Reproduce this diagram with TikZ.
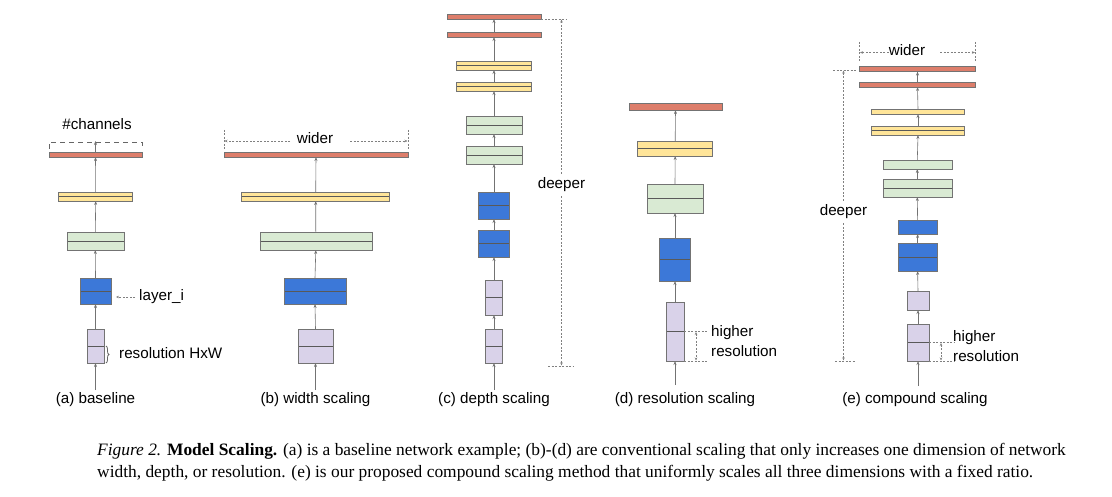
\documentclass[tikz,border=0pt]{standalone}
\usepackage{fontspec}
\setmainfont{Liberation Serif}
\newfontfamily\lblfont{Liberation Sans}
\usetikzlibrary{arrows.meta,decorations.pathreplacing}
\definecolor{cred}{HTML}{DD7E6B}
\definecolor{cyel}{HTML}{FFE599}
\definecolor{cgrn}{HTML}{D9EAD3}
\definecolor{cblu}{HTML}{3C78D8}
\definecolor{cpur}{HTML}{D9D2E9}
\tikzset{
  blk/.style={draw=black!55, line width=0.6pt, inner sep=0pt, outer sep=0pt},
  rd/.style={blk, fill=cred},
  yl/.style={blk, fill=cyel},
  gn/.style={blk, fill=cgrn},
  bl/.style={blk, fill=cblu},
  pu/.style={blk, fill=cpur},
  mid/.style={path picture={\draw[black!65, line width=0.8pt] (path picture bounding box.west) -- (path picture bounding box.east);}},
  flow/.style={black!55, line width=0.6pt, -{Stealth[length=4pt,width=3pt]}},
  dim/.style={black!50, line width=0.5pt, dash pattern=on 2pt off 1.5pt},
  lbl/.style={font=\lblfont\fontsize{15.2}{18}\selectfont, inner sep=0pt}
}
\newcommand{\blk}[6]{\node[#1, minimum width=#5pt, minimum height=#6pt] (#2) at (#3,#4) {};}
\begin{document}
\begin{tikzpicture}[x=1pt,y=1pt,yscale=-1]
\useasboundingbox (0,0) rectangle (1112,497);

% (a) baseline
\blk{rd}{ard}{95.5}{154.5}{93}{5}
\blk{yl,mid}{ayl}{95.7}{196.5}{74}{9}
\blk{gn,mid}{agn}{95.3}{241}{57}{18}
\blk{bl,mid}{abl}{95.5}{291}{31}{26}
\blk{pu,mid}{apu}{95.5}{346}{17}{34}
\coordinate (ain) at (95.5,390);
\draw[flow] (ain) -- (apu.south);
\foreach \u/\v in {apu/abl,abl/agn,agn/ayl,ayl/ard}
  \draw[flow] (\u.north) -- (\v.south);
\node[lbl] (acap) at (95.5,400) {(a) baseline};
\node[lbl] (ach) at (97,124) {\#channels};
\draw[black!60, line width=0.9pt, dash pattern=on 5pt off 4pt] (49,149) -- (49,142) -- (142,142) -- (142,149);
\coordinate (achb) at (95.5,141);
\draw[flow] (ard.north) -- (achb);
\node[lbl, anchor=west] (alay) at (139,297) {layer\_i};
\draw[dim, -{Stealth[length=3pt,width=2.5pt]}] ([xshift=-4pt]alay.west) -- ([xshift=5pt]abl.east |- alay.west);
\node[lbl, anchor=west] (ares) at (119,353) {resolution HxW};
\draw[black!60, line width=0.8pt, decorate, decoration={brace, amplitude=3pt}] (106,346) -- (106,363);

% (b) width scaling
\blk{rd}{brd}{316}{154.5}{184}{5}
\blk{yl,mid}{byl}{315.7}{196.5}{148}{9}
\blk{gn,mid}{bgn}{315.8}{241}{112}{18}
\blk{bl,mid}{bbl}{315}{291}{62}{26}
\blk{pu,mid}{bpu}{315.5}{346}{35}{34}
\coordinate (bin) at (315.5,390);
\draw[flow] (bin) -- (bpu.south);
\foreach \u/\v in {bpu/bbl,bbl/bgn,bgn/byl,byl/brd}
  \draw[flow] (\u.north) -- (\v.south);
\node[lbl] (bcap) at (315.5,400) {(b) width scaling};
\node[lbl] (bwd) at (315,138) {wider};
\draw[dim] (224,130) -- (224,150) (408,130) -- (408,150);
\draw[dim, -{Stealth[length=3pt,width=2.5pt]}] (290,141) -- (224.5,141);
\draw[dim, -{Stealth[length=3pt,width=2.5pt]}] (350,141) -- (407.5,141);

% (c) depth scaling
\blk{rd}{crd1}{494}{16.5}{94}{5}
\blk{rd}{crd2}{494}{34.5}{94}{5}
\blk{yl,mid}{cyl1}{494}{65.5}{75}{9}
\blk{yl,mid}{cyl2}{494}{86.5}{75}{9}
\blk{gn,mid}{cgn1}{494}{125}{56}{18}
\blk{gn,mid}{cgn2}{494}{155}{56}{18}
\blk{bl,mid}{cbl1}{494}{205.5}{31}{27}
\blk{bl,mid}{cbl2}{494}{243.5}{31}{27}
\blk{pu,mid}{cpu1}{494}{297.5}{17}{35}
\blk{pu,mid}{cpu2}{494}{346}{17}{34}
\coordinate (cin) at (494,390);
\draw[flow] (cin) -- (cpu2.south);
\foreach \u/\v in {cpu2/cpu1,cpu1/cbl2,cbl2/cbl1,cbl1/cgn2,cgn2/cgn1,cgn1/cyl2,cyl2/cyl1,cyl1/crd2,crd2/crd1}
  \draw[flow] (\u.north) -- (\v.south);
\node[lbl] (ccap) at (494,400) {(c) depth scaling};
\node[lbl] (cdp) at (561.5,185) {deeper};
\draw[dim] (541,19) -- (566,19) (548,366) -- (573,366);
\draw[dim, -{Stealth[length=3pt,width=2.5pt]}] ([yshift=-4pt]cdp.north) -- (561.5,19.5);
\draw[dim, -{Stealth[length=3pt,width=2.5pt]}] ([yshift=4pt]cdp.south) -- (561.5,365.5);

% (d) resolution scaling
\blk{rd}{drd}{675.5}{106.5}{93}{7}
\blk{yl,mid}{dyl}{675.2}{148.5}{75}{15}
\blk{gn,mid}{dgn}{675}{198.5}{56}{29}
\blk{bl,mid}{dbl}{675}{259.5}{31}{43}
\blk{pu,mid}{dpu}{675}{331.5}{18}{59}
\coordinate (din) at (675,385);
\draw[flow] (din) -- (dpu.south);
\foreach \u/\v in {dpu/dbl,dbl/dgn,dgn/dyl,dyl/drd}
  \draw[flow] (\u.north) -- (\v.south);
\node[lbl] (dcap) at (685,400) {(d) resolution scaling};
\node[lbl, anchor=west] (dhi) at (711,333) {higher};
\node[lbl, anchor=west] (dres) at (711,351) {resolution};
\draw[dim] (dpu.east) -- (707,331.5) (dpu.south east) -- (708,361);
\draw[dim, {Stealth[length=3pt,width=2.5pt]}-{Stealth[length=3pt,width=2.5pt]}] (696,332) -- (696,360.5);

% (e) compound scaling
\blk{rd}{erd1}{917.5}{69}{116}{5}
\blk{rd}{erd2}{917.5}{84.5}{116}{5}
\blk{yl}{eyl1}{918}{111.5}{93}{5}
\blk{yl,mid}{eyl2}{918}{130.5}{93}{9}
\blk{gn}{egn1}{917.3}{164.5}{69}{9}
\blk{gn,mid}{egn2}{917.3}{188}{69}{18}
\blk{bl}{ebl1}{917.6}{227}{39}{14}
\blk{bl,mid}{ebl2}{917.6}{257}{39}{28}
\blk{pu}{epu1}{918}{300.5}{22}{19}
\blk{pu,mid}{epu2}{918}{342.5}{22}{37}
\coordinate (ein) at (918,386);
\draw[flow] (ein) -- (epu2.south);
\foreach \u/\v in {epu2/epu1,epu1/ebl2,ebl2/ebl1,ebl1/egn2,egn2/egn1,egn1/eyl2,eyl2/eyl1,eyl1/erd2,erd2/erd1}
  \draw[flow] (\u.north) -- (\v.south);
\node[lbl] (ecap) at (915,400) {(e) compound scaling};
\node[lbl] (ewd) at (907,50) {wider};
\draw[dim] (859.6,42) -- (859.6,62) (975.4,42) -- (975.4,62);
\draw[dim, -{Stealth[length=3pt,width=2.5pt]}] (ewd.west |- 0,52.5) -- (860,52.5);
\draw[dim, -{Stealth[length=3pt,width=2.5pt]}] (940,52.5) -- (975,52.5);
\node[lbl] (edp) at (843.5,212) {deeper};
\draw[dim] (833,70) -- (857,70) (835,361) -- (856,361);
\draw[dim, -{Stealth[length=3pt,width=2.5pt]}] ([yshift=-4pt]edp.north) -- (843.5,70.5);
\draw[dim, -{Stealth[length=3pt,width=2.5pt]}] ([yshift=4pt]edp.south) -- (843.5,360.5);
\node[lbl, anchor=west] (ehi) at (953,338) {higher};
\node[lbl, anchor=west] (eres) at (953,356) {resolution};
\draw[dim] (epu2.east) -- (955,342.5) (epu2.south east) -- (955,361);
\draw[dim, {Stealth[length=3pt,width=2.5pt]}-{Stealth[length=3pt,width=2.5pt]}] (941,343) -- (941,360.5);

% caption
\node[anchor=west, inner sep=0pt, font=\fontsize{17.4}{20}\selectfont] (cap1) at (97,451)
  {\textit{Figure 2.} \textbf{Model Scaling.} (a) is a baseline network example; (b)-(d) are conventional scaling that only increases one dimension of network};
\node[anchor=west, inner sep=0pt, font=\fontsize{17.4}{20}\selectfont] (cap2) at (97,473)
  {width, depth, or resolution. (e) is our proposed compound scaling method that uniformly scales all three dimensions with a fixed ratio.};
\end{tikzpicture}
\end{document}
